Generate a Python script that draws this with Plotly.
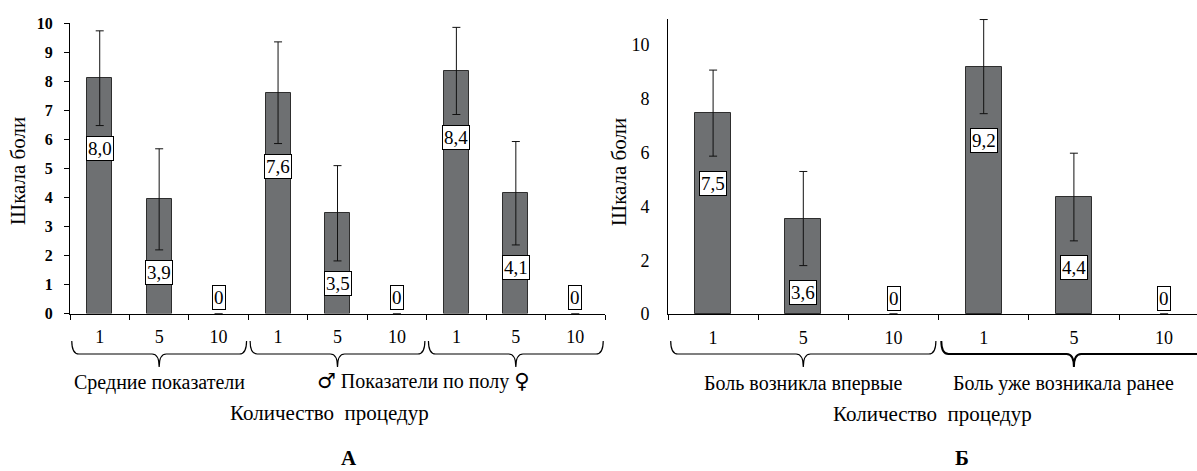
import plotly.graph_objects as go

# ---------------- data ----------------
cats_a = ["1", "5", "10", "1", "5", "10", "1", "5", "10"]
means_a = [8.1, 3.93, 0, 7.6, 3.45, 0, 8.35, 4.14, 0]
err_a = [1.63, 1.74, 0, 1.75, 1.64, 0, 1.5, 1.78, 0]
labels_a = ["8,0", "3,9", "0", "7,6", "3,5", "0", "8,4", "4,1", "0"]
groups_a = ["Средние показатели", "Показатели по полу"]
sex_symbols = ["♂", "♀"]
group_idx_a = [[0, 1, 2], [3, 4, 5], [6, 7, 8]]

cats_b = ["1", "5", "10", "1", "5", "10"]
means_b = [7.47, 3.55, 0, 9.2, 4.35, 0]
err_b = [1.6, 1.75, 0, 1.75, 1.63, 0]
labels_b = ["7,5", "3,6", "0", "9,2", "4,4", "0"]
groups_b = ["Боль возникла впервые", "Боль уже возникала ранее"]
group_idx_b = [[0, 1, 2], [3, 4, 5]]

x_title = "Количество\u00a0\u00a0процедур"
y_title = "Шкала боли"
panel_titles = ["А", "Б"]

# ---------------- style ----------------
W, H = 1197, 471
SERIF = "Liberation Serif"
SYM = "DejaVu Sans"
BAR_FILL = "#6e7072"
BAR_LINE = "#2e2e2e"


def py(p):  # pixel row -> paper y
    return 1 - p / H


def px(p):  # pixel column -> paper x
    return p / W


fig = go.Figure()

xa = list(range(len(cats_a)))
xb = list(range(len(cats_b)))


def bar_trace(xs, means, errs, width, xaxis, yaxis):
    return go.Bar(
        x=xs, y=means, width=width, xaxis=xaxis, yaxis=yaxis,
        marker=dict(color=BAR_FILL,
                    line=dict(color=BAR_LINE,
                              width=[1 if m > 0 else 0 for m in means])),
        error_y=dict(type="data", array=[e if e > 0 else None for e in errs],
                     color="#111", thickness=1, width=4, visible=True),
        showlegend=False, hoverinfo="skip")


fig.add_trace(bar_trace(xa, means_a, err_a, 0.42, "x", "y"))
fig.add_trace(bar_trace(xb, means_b, err_b, 0.40, "x2", "y2"))


def note(x, y, text, font, xref="paper", yref="paper", yanchor="middle", **kw):
    fig.add_annotation(x=x, y=y, xref=xref, yref=yref, text=text,
                       showarrow=False, xanchor="center", yanchor=yanchor,
                       font=font, **kw)


# value boxes
def add_boxes(xs, means, errs, labels, xref, yref, shift):
    for x, m, e, t in zip(xs, means, errs, labels):
        if m > 0:
            y, ys = m - e, shift
        else:
            y, ys = 0, 16
        note(x, y, t, dict(family=SERIF, size=19, color="black"),
             xref=xref, yref=yref, yshift=ys, bgcolor="white",
             bordercolor="black", borderwidth=1, borderpad=1)


add_boxes(xa, means_a, err_a, labels_a, "x", "y", -23)
add_boxes(xb, means_b, err_b, labels_b, "x2", "y2", -27)


# braces under category groups
def brace(xref, x0, x1, width=1.2, end_pad=0.03, d=0.12):
    y_end, y_mid, y_pt = py(341), py(354), py(367)
    xl, xr = x0 + end_pad, x1 - end_pad
    xc = (x0 + x1) / 2
    path = (f"M {xl},{y_end} Q {xl},{y_mid} {xl + d},{y_mid} "
            f"L {xc - d},{y_mid} Q {xc},{y_mid} {xc},{y_pt} "
            f"Q {xc},{y_mid} {xc + d},{y_mid} "
            f"L {xr - d},{y_mid} Q {xr},{y_mid} {xr},{y_end}")
    fig.add_shape(type="path", path=path, xref=xref, yref="paper",
                  line=dict(color="black", width=width))


for g in group_idx_a:
    brace("x", g[0] - 0.5, g[-1] + 0.5)
for i, g in enumerate(group_idx_b):
    brace("x2", g[0] - 0.5, g[-1] + 0.5, width=1.2 if i == 0 else 2, d=0.08)

# group labels
gfont = dict(family=SERIF, size=20, color="black")
a0 = group_idx_a[0]
note((a0[0] + a0[-1]) / 2, py(382), groups_a[0], gfont, xref="x")
sym = f'<span style="font-family:{SYM};font-size:21px">'
sex_text = (f"{sym}{sex_symbols[0]}</span> {groups_a[1]} "
            f"{sym}{sex_symbols[1]}</span>")
note((group_idx_a[1][0] + group_idx_a[2][-1]) / 2 - 0.05, py(381), sex_text,
     gfont, xref="x")
for i, (g, t) in enumerate(zip(group_idx_b, groups_b)):
    note((g[0] + g[-1]) / 2 - (0.12 if i == 1 else 0), py(383), t, gfont,
         xref="x2")

# axis titles and panel letters
tfont = dict(family=SERIF, size=21, color="black")
note(px(329), py(413), x_title, tfont)
note(px(932), py(414), x_title, tfont)
note(px(18), py(171), y_title, tfont, textangle=-90)
note(px(619), py(172), y_title, tfont, textangle=-90)
lfont = dict(family=SERIF, size=21, color="black", weight="bold")
note(px(349), 0, panel_titles[0], lfont, yanchor="bottom", borderpad=0)
note(px(962), 0, panel_titles[1], lfont, yanchor="bottom", borderpad=0)

axis_common = dict(showline=True, linecolor="black", linewidth=1,
                   showgrid=False, zeroline=False, automargin=False)

fig.update_layout(
    width=W, height=H,
    margin=dict(l=0, r=0, t=0, b=0),
    paper_bgcolor="white", plot_bgcolor="white",
    bargap=0,
    font=dict(family=SERIF),
    xaxis=dict(domain=[px(70), px(605)], range=[-0.5, len(cats_a) - 0.5],
               tickmode="array", tickvals=xa, ticktext=cats_a, ticks="",
               ticklabelstandoff=7,
               tickfont=dict(family=SERIF, size=18, color="black"),
               minor=dict(tickmode="array",
                          tickvals=[i - 0.5 for i in range(len(cats_a) + 1)],
                          ticks="outside", ticklen=5, tickcolor="black"),
               anchor="y", **axis_common),
    yaxis=dict(domain=[py(313.5), py(23)], range=[0, 10], dtick=1,
               ticks="outside", ticklen=5, tickcolor="black",
               ticklabelstandoff=8,
               tickfont=dict(family=SERIF, size=16, color="black", weight="bold"),
               anchor="x", **axis_common),
    xaxis2=dict(domain=[px(668), 1], range=[-0.5, -0.5 + (W - 668) / 90.2],
                tickmode="array", tickvals=xb, ticktext=cats_b, ticks="",
                ticklabelstandoff=7,
                tickfont=dict(family=SERIF, size=18, color="black"),
                minor=dict(tickmode="array",
                           tickvals=[i - 0.5 for i in range(len(cats_b) + 1)],
                           ticks="outside", ticklen=5, tickcolor="black"),
                anchor="y2", **axis_common),
    yaxis2=dict(domain=[py(314), py(19)], range=[0, 10.97], dtick=2,
                ticks="", ticklabelstandoff=14,
                tickfont=dict(family=SERIF, size=18, color="black"),
                anchor="x2", **axis_common),
)

fig.write_html("out.html")
